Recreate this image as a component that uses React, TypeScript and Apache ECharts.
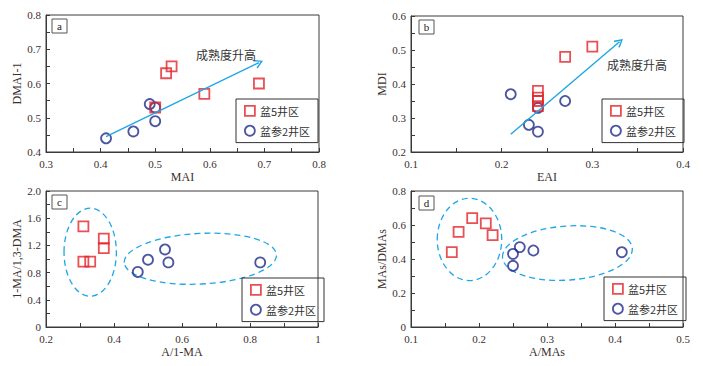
import React, { useEffect, useRef } from "react";
import * as echarts from "echarts";

// ---- data ----
const seriesNames = ["盆5井区", "盆参2井区"];
const panelLabels = ["a", "b", "c", "d"];
const xNames = ["MAI", "EAI", "A/1-MA", "A/MAs"];
const yNames = ["DMAI-1", "MDI", "1-MA/1,3-DMA", "MAs/DMAs"];
const arrowText = "成熟度升高";

const aBasin5 = [[0.50, 0.53], [0.52, 0.63], [0.53, 0.65], [0.59, 0.57], [0.69, 0.60]];
const aBasinCan2 = [[0.41, 0.44], [0.46, 0.46], [0.49, 0.54], [0.50, 0.53], [0.50, 0.49]];
const bBasin5 = [[0.24, 0.38], [0.24, 0.36], [0.24, 0.35], [0.24, 0.335], [0.27, 0.48], [0.30, 0.51]];
const bBasinCan2 = [[0.21, 0.37], [0.23, 0.28], [0.24, 0.26], [0.24, 0.33], [0.27, 0.35]];
const cBasin5 = [[0.31, 1.48], [0.31, 0.96], [0.33, 0.96], [0.37, 1.30], [0.37, 1.16]];
const cBasinCan2 = [[0.47, 0.81], [0.50, 0.99], [0.55, 1.14], [0.56, 0.95], [0.83, 0.95]];
const dBasin5 = [[0.16, 0.44], [0.17, 0.56], [0.19, 0.64], [0.21, 0.61], [0.22, 0.54]];
const dBasinCan2 = [[0.25, 0.43], [0.25, 0.36], [0.26, 0.47], [0.28, 0.45], [0.41, 0.44]];

// arrows: [start, end] in data coords
const aArrow = [[0.41, 0.445], [0.69, 0.661]];
const bArrow = [[0.21, 0.252], [0.33, 0.524]];
// ellipses: [cx, cy, rx, ry, rotation]
const cEllipses = [[0.33, 1.10, 0.077, 0.647, 0.0], [0.654, 1.004, 0.224, 0.372, 0.05]];
const dEllipses = [[0.186, 0.515, 0.0474, 0.242, 0.0], [0.33, 0.435, 0.0956, 0.159, 0.07]];

// axis ranges: [min, max, interval]
const xRanges = [[0.3, 0.8, 0.1], [0.1, 0.4, 0.1], [0.2, 1, 0.2], [0.1, 0.5, 0.1]];
const yRanges = [[0.4, 0.8, 0.1], [0.2, 0.6, 0.1], [0, 2.0, 0.4], [0, 0.8, 0.2]];

const RED = "#e3242b";
const BLUE = "#1f2a88";
const CYAN = "#1ea6e6";
const AXIS = "#3a3a3a";
const TXT = "#3b3030";
const SERIF = "'Liberation Serif', 'Times New Roman', serif";
const CJK = "'Noto Sans CJK SC', sans-serif";

const grids = [
  { left: 46, top: 15, width: 273, height: 137 },
  { left: 411, top: 16, width: 272, height: 136 },
  { left: 46, top: 191, width: 272, height: 136 },
  { left: 411, top: 191, width: 272, height: 136 },
];
const legendPos = [
  { left: 236, top: 99 },
  { left: 602, top: 99 },
  { left: 242, top: 278 },
  { left: 604, top: 277 },
];
const labelBoxPos = [
  [52, 19],
  [419, 20],
  [52, 195],
  [419, 196],
];
const arrowTextPos = [
  [226, 54],
  [637, 64],
];

const fmtX = [
  (v: number) => v.toFixed(1),
  (v: number) => v.toFixed(1),
  (v: number) => (Math.abs(v - 1) < 1e-9 ? "1" : v.toFixed(1)),
  (v: number) => v.toFixed(1),
];
const fmtY = [
  (v: number) => v.toFixed(1),
  (v: number) => v.toFixed(1),
  (v: number) => (Math.abs(v) < 1e-9 ? "0" : v.toFixed(1)),
  (v: number) => (Math.abs(v) < 1e-9 ? "0" : v.toFixed(1)),
];

const chevron = "path://M5,0 L10,7 L8.8,8 L5,2.4 L1.2,8 L0,7 Z";

function axisCommon() {
  return {
    axisLine: { show: true, onZero: false, lineStyle: { color: AXIS, width: 1 } },
    axisTick: { show: true, inside: true, length: 4, lineStyle: { color: AXIS } },
    minorTick: { show: true, splitNumber: 2, length: 4, lineStyle: { color: AXIS } },
    splitLine: { show: false },
    nameTextStyle: { fontFamily: SERIF, fontSize: 12, color: TXT },
  };
}

function ellipseRender(params: any, api: any) {
  const c = api.coord([api.value(0), api.value(1)]);
  const s = api.size([api.value(2), api.value(3)]);
  return {
    type: "ellipse",
    x: c[0],
    y: c[1],
    rotation: api.value(4),
    shape: { cx: 0, cy: 0, rx: s[0], ry: s[1] },
    style: { fill: "none", stroke: CYAN, lineWidth: 1.3, lineDash: [6, 4] },
  };
}

export default function App() {
  const ref = useRef<HTMLDivElement>(null);
  useEffect(() => {
    document.body.style.margin = "0";
    if (!ref.current) return;
    const chart = echarts.init(ref.current, undefined, { renderer: "svg" });

    const xAxis = xRanges.map((r, i) => ({
      ...axisCommon(),
      type: "value",
      gridIndex: i,
      min: r[0],
      max: r[1],
      interval: r[2],
      name: xNames[i],
      nameLocation: "middle",
      nameGap: 19,
      axisLabel: { formatter: fmtX[i], fontFamily: SERIF, fontSize: 11, color: TXT, margin: 6 },
    }));
    const yAxis = yRanges.map((r, i) => ({
      ...axisCommon(),
      type: "value",
      gridIndex: i,
      min: r[0],
      max: r[1],
      interval: r[2],
      name: yNames[i],
      nameLocation: "middle",
      nameGap: 20,
      axisLabel: { formatter: fmtY[i], fontFamily: SERIF, fontSize: 11, color: TXT, margin: 5 },
    }));

    const redData = [aBasin5, bBasin5, cBasin5, dBasin5];
    const blueData = [aBasinCan2, bBasinCan2, cBasinCan2, dBasinCan2];
    const arrows = [aArrow, bArrow];

    const series: any[] = [];
    for (let i = 0; i < 4; i++) {
      series.push({
        type: "scatter",
        name: seriesNames[1],
        xAxisIndex: i,
        yAxisIndex: i,
        data: blueData[i],
        symbol: "circle",
        symbolSize: 10,
        itemStyle: { color: "transparent", borderColor: BLUE, borderWidth: 1.8 },
      });
      const red: any = {
        type: "scatter",
        name: seriesNames[0],
        xAxisIndex: i,
        yAxisIndex: i,
        data: redData[i],
        symbol: "rect",
        symbolSize: 10,
        itemStyle: { color: "transparent", borderColor: RED, borderWidth: 1.8 },
      };
      if (i < 2) {
        const ar = arrows[i];
        red.markLine = {
          silent: true,
          animation: false,
          symbol: ["none", chevron],
          symbolSize: [9, 9],
          lineStyle: { color: CYAN, width: 1.4, type: "solid" },
          label: { show: false },
          data: [[{ coord: ar[0] }, { coord: ar[1] }]],
        };
      }
      series.push(red);
    }
    series.push({
      type: "custom",
      xAxisIndex: 2,
      yAxisIndex: 2,
      renderItem: ellipseRender,
      data: cEllipses,
      encode: { x: 0, y: 1 },
      silent: true,
      z: 1,
    });
    series.push({
      type: "custom",
      xAxisIndex: 3,
      yAxisIndex: 3,
      renderItem: ellipseRender,
      data: dEllipses,
      encode: { x: 0, y: 1 },
      silent: true,
      z: 1,
    });

    const legend = legendPos.map((p) => ({
      left: p.left,
      top: p.top,
      orient: "vertical",
      selectedMode: false,
      borderColor: "#333",
      borderWidth: 1,
      padding: [6, 8, 6, 8],
      itemGap: 8,
      itemWidth: 10,
      itemHeight: 10,
      textStyle: { fontFamily: CJK, fontSize: 11, color: "#333" },
      data: [
        { name: seriesNames[0], icon: "rect", itemStyle: { color: "transparent", borderColor: RED, borderWidth: 1.8 } },
        { name: seriesNames[1], icon: "circle", itemStyle: { color: "transparent", borderColor: BLUE, borderWidth: 1.8 } },
      ],
    }));

    const graphic: any[] = [];
    labelBoxPos.forEach((p, i) => {
      graphic.push({
        type: "rect",
        shape: { x: p[0], y: p[1], width: 15, height: 14 },
        style: { fill: "#fff", stroke: "#555", lineWidth: 1 },
        z: 10,
      });
      graphic.push({
        type: "text",
        x: p[0] + 7.5,
        y: p[1] + 7,
        style: {
          text: panelLabels[i],
          fontFamily: SERIF,
          fontSize: 11,
          fill: "#222",
          align: "center",
          verticalAlign: "middle",
        },
        z: 11,
      });
    });
    arrowTextPos.forEach((p) => {
      graphic.push({
        type: "text",
        x: p[0],
        y: p[1],
        style: {
          text: arrowText,
          fontFamily: CJK,
          fontSize: 12,
          fill: "#333",
          align: "center",
          verticalAlign: "middle",
        },
        z: 11,
      });
    });

    chart.setOption({
      animation: false,
      grid: grids.map((g) => ({ ...g, show: true, borderColor: AXIS, borderWidth: 1, backgroundColor: "transparent" })),
      xAxis,
      yAxis,
      legend,
      series,
      graphic,
    });
    return () => chart.dispose();
  }, []);
  return <div ref={ref} style={{ width: 703, height: 366, background: "#fff" }} />;
}
